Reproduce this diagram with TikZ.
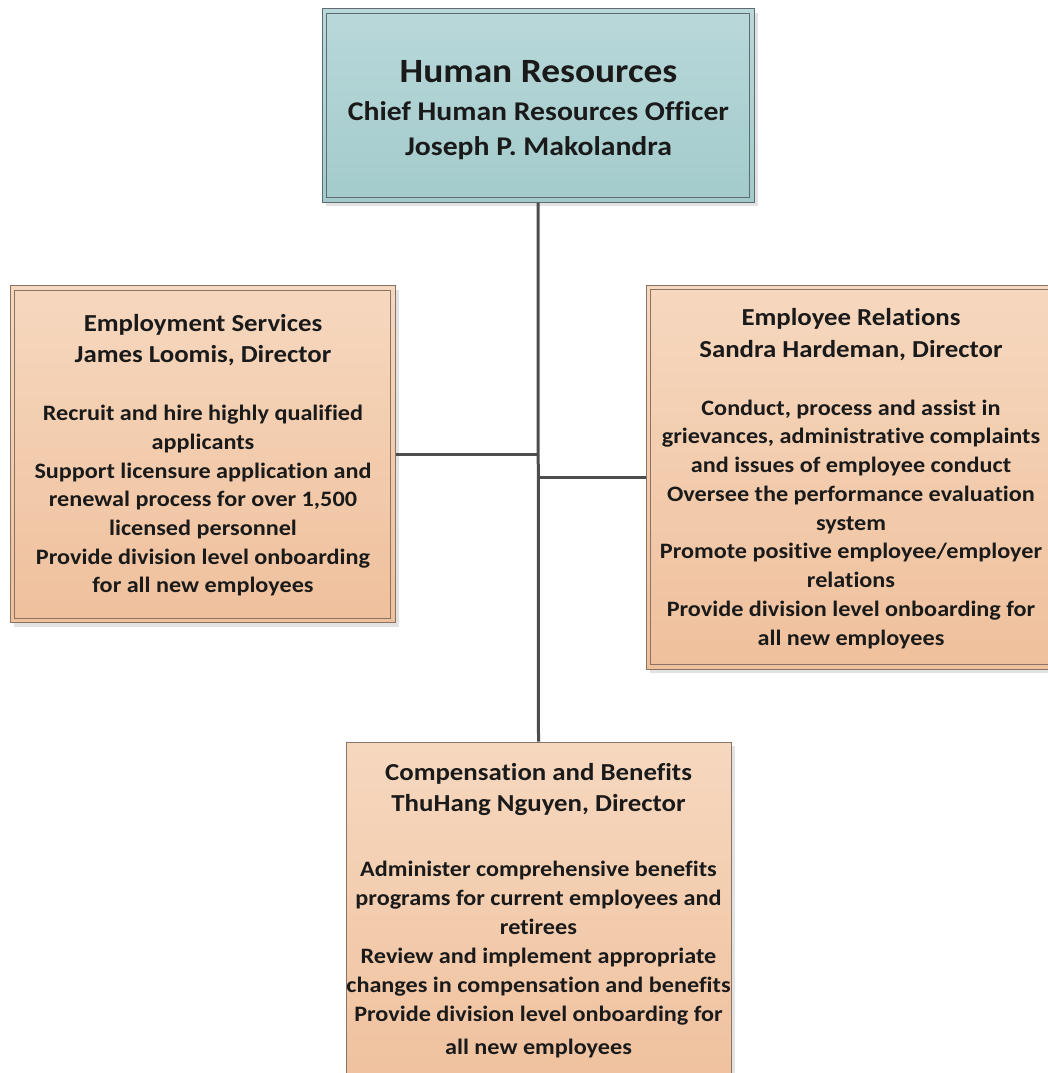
\documentclass[tikz,border=0pt]{standalone}
\usepackage{fontspec}
\setmainfont{Carlito}[FakeStretch=1.1, RawFeature={-liga}]
\usetikzlibrary{shadows}
\definecolor{tealtop}{HTML}{B9D8DA}
\definecolor{tealbot}{HTML}{A3CBCB}
\definecolor{tealborder}{HTML}{5D6D6F}
\definecolor{orgtop}{HTML}{F6D8BF}
\definecolor{orgbot}{HTML}{EFC09C}
\definecolor{orgborder}{HTML}{8A7363}
\definecolor{shadowgray}{HTML}{E2E2E2}
\definecolor{linegray}{HTML}{4D4D4D}
\definecolor{txt}{HTML}{1A1A1A}
\newcommand{\blk}[3]{{\fontsize{#1}{#2}\selectfont\begin{tabular}[t]{@{}c@{}}#3\end{tabular}}}
\tikzset{
  boxbase/.style={rectangle, line width=1pt, inner sep=0pt,
    general shadow={fill=shadowgray, shadow xshift=4pt, shadow yshift=-4pt}},
  hrbox/.style={boxbase, draw=tealborder, top color=tealtop, bottom color=tealbot},
  orgbox/.style={boxbase, draw=orgborder, top color=orgtop, bottom color=orgbot},
  innerline/.style={line width=1pt},
  label/.style={inner sep=0pt, anchor=base, text=txt, font=\bfseries},
  conn/.style={draw=linegray, line width=3pt},
}
\begin{document}
\begin{tikzpicture}[x=1pt, y=-1pt]
\useasboundingbox (0,0) rectangle (1048,1073);
\clip (0,0) rectangle (1048,1073);
\fill[white] (0,0) rectangle (1048,1073);
% boxes
\node[hrbox, minimum width=432pt, minimum height=193pt] (hr) at (538,105.5) {};
\node[orgbox, minimum width=385pt, minimum height=337pt] (emp) at (202.5,454) {};
\node[orgbox, minimum width=410pt, minimum height=384pt] (rel) at (851,477) {};
\node[orgbox, minimum width=385pt, minimum height=360pt] (comp) at (538.5,922) {};
% inner borders
\draw[innerline, draw=tealborder] ([shift={(5pt,-5pt)}]hr.north west) rectangle ([shift={(-5pt,5pt)}]hr.south east);
\draw[innerline, draw=orgborder] ([shift={(5pt,-5pt)}]emp.north west) rectangle ([shift={(-5pt,5pt)}]emp.south east);
\draw[innerline, draw=orgborder] ([shift={(5pt,-5pt)}]rel.north west) rectangle ([shift={(-5pt,5pt)}]rel.south east);
% connectors
\draw[conn] (hr.south) -- (comp.north);
\draw[conn] (emp.east) -- (emp.east -| hr.south);
\draw[conn] (rel.west) -- (rel.west -| hr.south);
% texts
\node[label] (hrtitle) at (538.5,82) {\blk{34pt}{38pt}{Human Resources}};
\node[label] (hrsub) at (538.5,120) {\blk{27pt}{35pt}{Chief Human Resources Officer\\Joseph P. Makolandra}};
\node[label] (emphead) at (203,331.7) {\blk{24.4pt}{31pt}{Employment Services\\James Loomis, Director}};
\node[label] (empbody) at (203,420.7) {\blk{22pt}{28.7pt}{Recruit and hire highly qualified\\applicants\\Support licensure application and\\renewal process for over 1,500\\licensed personnel\\Provide division level onboarding\\for all new employees}};
\node[label] (relhead) at (851,325) {\blk{24.4pt}{32.3pt}{Employee Relations\\Sandra Hardeman, Director}};
\node[label] (relbody) at (851,415) {\blk{22pt}{28.75pt}{Conduct, process and assist in\\grievances, administrative complaints\\and issues of employee conduct\\Oversee the performance evaluation\\system\\Promote positive employee/employer\\relations\\Provide division level onboarding for\\all new employees}};
\node[label] (comphead) at (538.5,780) {\blk{24.4pt}{31.7pt}{Compensation and Benefits\\ThuHang Nguyen, Director}};
\node[label] (compbody) at (538.5,876.7) {\blk{22pt}{29pt}{Administer comprehensive benefits\\programs for current employees and\\retirees\\Review and implement appropriate\\changes in compensation and benefits\\Provide division level onboarding for\\[4pt]all new employees}};
\end{tikzpicture}
\end{document}
